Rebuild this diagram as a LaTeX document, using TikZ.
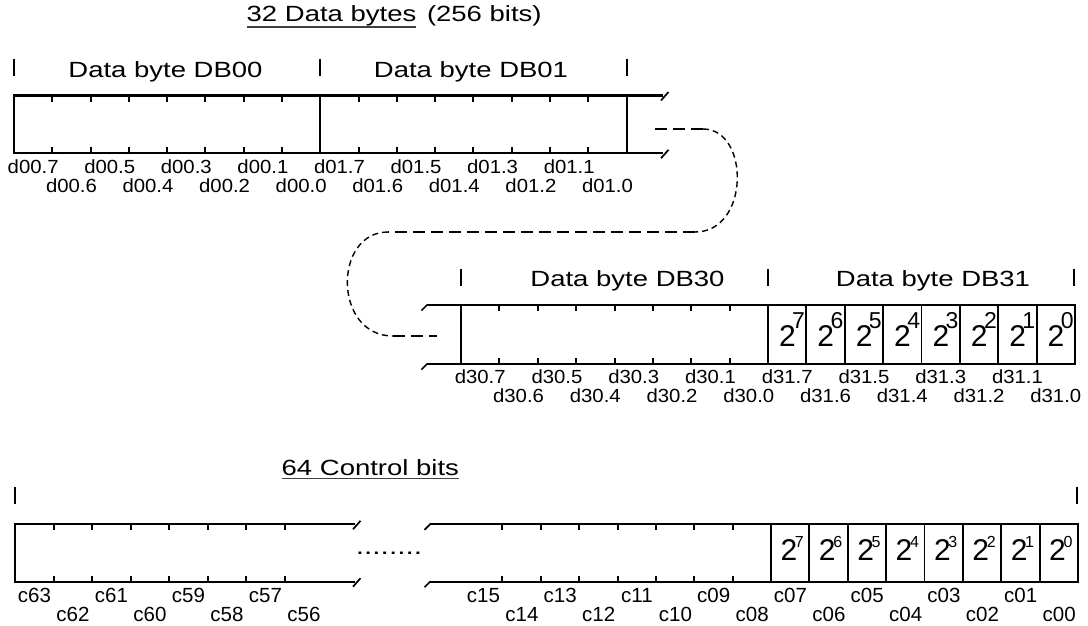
\documentclass[tikz,border=0pt]{standalone}
\usepackage{fontspec}
\setmainfont{Liberation Sans}
\usepackage{graphicx}
\newcommand\hdrtxt[1]{\scalebox{1.25}[1]{\fontsize{22}{22}\selectfont #1}}
\newcommand\dtxt[1]{\scalebox{1.07}[1]{\fontsize{19}{19}\selectfont #1}}
\newcommand\ctxt[1]{{\fontsize{20.5}{20.5}\selectfont #1}}
\newcommand\pwr[1]{{\fontsize{30}{30}\selectfont 2}\kern-3.5pt\raisebox{18.2pt}{\fontsize{23}{23}\selectfont #1}}
\newcommand\pwrc[1]{{\fontsize{30}{30}\selectfont 2}\kern-2.3pt\raisebox{12.7pt}{\fontsize{16}{16}\selectfont #1}}
\begin{document}
\begin{tikzpicture}[x=1pt,y=-1pt,
  boxline/.style={line width=2.2pt, line join=miter},
  cellline/.style={line width=1.8pt},
  tickline/.style={line width=2pt},
  brk/.style={line width=1.7pt},
  marker/.style={line width=2.2pt},
  txt/.style={inner sep=0pt, outer sep=0pt, anchor=base},
  flow/.style={line width=1.8pt, dash pattern=on 12pt off 6pt},
  flowc/.style={line width=1.4pt, dash pattern=on 6pt off 4pt},
  uline/.style={line width=1.6pt, black!75},
]
\useasboundingbox (0,0) rectangle (1088,625);

% ---------------- title ----------------
\node[txt, anchor=base west] (title1) at (246.7,21.7) {\hdrtxt{32 Data bytes}};
\node[txt, anchor=base west] (title2) at (427,21.7) {\hdrtxt{(256 bits)}};
\draw[uline] ([yshift=-5pt]title1.base west) -- ([yshift=-5pt]title1.base east);

% ---------------- row 1 : DB00, DB01 ----------------
\def\Ta{95.5}
\def\Ba{153.3}
\draw[boxline] (663,\Ta) -- (14,\Ta) -- (14,\Ba) -- (663,\Ba);
\foreach \x in {320.3,626.6} \draw[boxline] (\x,\Ta) -- (\x,\Ba);
\foreach \k in {1,...,7} {
  \draw[tickline] (14+\k*38.29,\Ta) -- ++(0,6);
  \draw[tickline] (14+\k*38.29,\Ba) -- ++(0,-6);
  \draw[tickline] (320.3+\k*38.29,\Ta) -- ++(0,6);
  \draw[tickline] (320.3+\k*38.29,\Ba) -- ++(0,-6);
}
\draw[brk] (661,\Ta+5) -- (668.5,\Ta-3.5);
\draw[brk] (661,\Ba+5) -- (668.5,\Ba-3.5);
\foreach \x in {14,320.3,626.6} \draw[marker] (\x,58.5) -- (\x,76);
\node[txt] (h00) at (165.5,77) {\hdrtxt{Data byte DB00}};
\node[txt] (h01) at (471,77) {\hdrtxt{Data byte DB01}};
\foreach \i in {0,...,7} {
  \pgfmathtruncatemacro\bit{7-\i}
  \pgfmathsetmacro\yy{\Ba+20.5+18.5*mod(\i,2)}
  \node[txt] (la\i) at (14+\i*38.29+19.15,\yy) {\dtxt{d00.\bit}};
  \node[txt] (lb\i) at (320.3+\i*38.29+19.15,\yy) {\dtxt{d01.\bit}};
}

% ---------------- connector ----------------
\coordinate (c1) at (655,129);
\coordinate (c2) at (703,129);
\coordinate (c3) at (695,232);
\coordinate (c4) at (388,232);
\coordinate (c5) at (393,336);
\coordinate (c6) at (437,336);
\draw[flow] (c1) -- (c2);
\draw[flowc] (c2) .. controls (750,129) and (750,232) .. (c3);
\draw[flow] (c3) -- (c4);
\draw[flowc] (c4) .. controls (333,232) and (333,336) .. (c5);
\draw[flow] (c5) -- (c6);

% ---------------- row 2 : DB30, DB31 ----------------
\def\Tb{305}
\def\Bb{364}
\draw[boxline] (427,\Tb) -- (1075,\Tb) -- (1075,\Bb) -- (427,\Bb);
\foreach \x in {461,768} \draw[boxline] (\x,\Tb) -- (\x,\Bb);
\foreach \k in {1,...,7} {
  \draw[tickline] (461+\k*38.375,\Tb) -- ++(0,6);
  \draw[tickline] (461+\k*38.375,\Bb) -- ++(0,-6);
  \draw[cellline] (768+\k*38.375,\Tb) -- (768+\k*38.375,\Bb);
}
\draw[brk] (421.5,\Tb+5.5) -- (427.5,\Tb-0.5);
\draw[brk] (421.5,\Bb+5.5) -- (427.5,\Bb-0.5);
\foreach \x in {461,768,1074} \draw[marker] (\x,269) -- (\x,286);
\node[txt] (h30) at (627.5,286) {\hdrtxt{Data byte DB30}};
\node[txt] (h31) at (933,286) {\hdrtxt{Data byte DB31}};
\foreach \i in {0,...,7} {
  \pgfmathtruncatemacro\bit{7-\i}
  \pgfmathsetmacro\yy{\Bb+19.5+19.3*mod(\i,2)}
  \node[txt] (lc\i) at (461+\i*38.375+19.19,\yy) {\dtxt{d30.\bit}};
  \node[txt] (ld\i) at (768+\i*38.375+19.19,\yy) {\dtxt{d31.\bit}};
  \node[txt, anchor=base west] (pd\i) at (768+\i*38.375+11,\Bb-17.5) {\pwr{\bit}};
}

% ---------------- control bits ----------------
\node[txt, anchor=base west] (title3) at (281.7,475) {\hdrtxt{64 Control bits}};
\draw[uline] ([yshift=-3.5pt]title3.base west) -- ([yshift=-3.5pt]title3.base east);
\def\Tc{524.3}
\def\Bc{581.7}
\draw[boxline] (355,\Tc) -- (15,\Tc) -- (15,\Bc) -- (355,\Bc);
\draw[boxline] (430,\Tc) -- (1078,\Tc) -- (1078,\Bc) -- (430,\Bc);
\draw[boxline] (771,\Tc) -- (771,\Bc);
\foreach \k in {1,...,7} {
  \draw[tickline] (15+\k*38.5,\Tc) -- ++(0,6);
  \draw[tickline] (15+\k*38.5,\Bc) -- ++(0,-6);
  \draw[tickline] (464+\k*38.375,\Tc) -- ++(0,6);
  \draw[tickline] (464+\k*38.375,\Bc) -- ++(0,-6);
  \draw[cellline] (771+\k*38.375,\Tc) -- (771+\k*38.375,\Bc);
}
\draw[brk] (353,\Tc+5) -- (360.5,\Tc-3.5);
\draw[brk] (353,\Bc+5) -- (360.5,\Bc-3.5);
\draw[brk] (424.5,\Tc+5.5) -- (430.5,\Tc-0.5);
\draw[brk] (424.5,\Bc+5.5) -- (430.5,\Bc-0.5);
\foreach \x in {15,1077} \draw[marker] (\x,487) -- (\x,504);
\node[txt] (dots) at (389,554.5) {\scalebox{1.3}[1]{\fontsize{23}{23}\selectfont ........}};
\foreach \i in {0,...,7} {
  \pgfmathtruncatemacro\n{63-\i}
  \pgfmathsetmacro\yy{\Bc+21+19*mod(\i,2)}
  \node[txt] (le\i) at (15+\i*38.5+19.5,\yy) {\ctxt{c\n}};
}
\foreach \i in {0,...,15} {
  \pgfmathtruncatemacro\n{15-\i}
  \pgfmathsetmacro\yy{\Bc+21+19*mod(\i,2)}
  \node[txt] (lf\i) at (464+\i*38.375+19.5,\yy) {\ctxt{c\ifnum\n<10 0\fi\n}};
}
\foreach \i in {0,...,7} {
  \pgfmathtruncatemacro\bit{7-\i}
  \node[txt, anchor=base west] (pc\i) at (771+\i*38.375+9.5,\Bc-21.7) {\pwrc{\bit}};
}
\end{tikzpicture}
\end{document}
